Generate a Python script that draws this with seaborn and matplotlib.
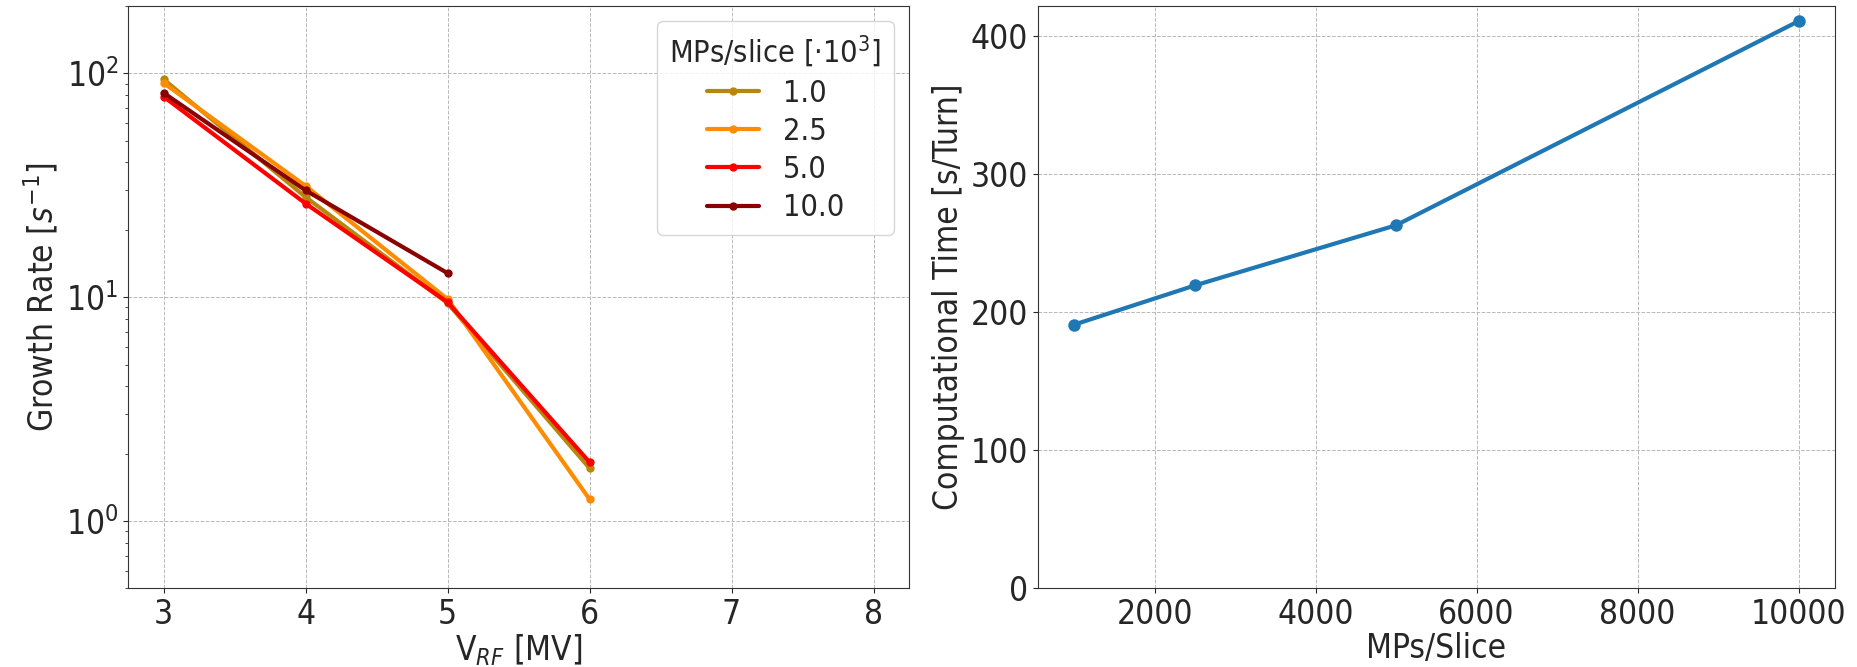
import numpy as np
import pandas as pd
import seaborn as sns
import matplotlib
matplotlib.use("Agg")
import matplotlib.pyplot as plt
from matplotlib.ticker import MultipleLocator

# growth rate vs RF voltage, one series per MPs/slice setting
v_rf = [3, 4, 5, 6]
mps_labels = ["1.0", "2.5", "5.0", "10.0"]
growth_1k = [94.0, 28.0, 9.4, 1.72]
growth_2k5 = [90.6, 31.4, 9.8, 1.25]
growth_5k = [78.7, 26.2, 9.5, 1.83]
growth_10k = [81.8, 30.0, 12.8]
line_colors = ["darkgoldenrod", "darkorange", "red", "darkred"]

# computational time vs MPs/slice
mps_per_slice = [1000, 2500, 5000, 10000]
comp_time = [191.0, 219.4, 263.0, 410.8]

sns.set_style("ticks")
plt.rcParams["font.family"] = ["DejaVu Sans"]
plt.rcParams["font.stretch"] = "condensed"
plt.rcParams["font.size"] = 20

rows = []
for label, vals in zip(mps_labels, [growth_1k, growth_2k5, growth_5k, growth_10k]):
    for v, g in zip(v_rf, vals):
        rows.append({"V_RF": v, "growth": g, "mps": label})
df_growth = pd.DataFrame(rows)
df_time = pd.DataFrame({"mps": mps_per_slice, "time": comp_time})

fig = plt.figure(figsize=(18.57, 6.67), dpi=100)
ax1 = fig.add_axes([0.069, 0.118, 0.4205, 0.873])
ax2 = fig.add_axes([0.559, 0.118, 0.429, 0.873])

sns.lineplot(
    data=df_growth, x="V_RF", y="growth", hue="mps",
    hue_order=mps_labels, palette=dict(zip(mps_labels, line_colors)),
    marker="o", markersize=6, markeredgewidth=0, linewidth=3, ax=ax1
)
ax1.set_yscale("log")
ax1.set_xlim(2.75, 8.25)
ax1.set_ylim(0.5, 200)
ax1.set_xticks([3, 4, 5, 6, 7, 8])
ax1.set_xlabel("V$_{RF}$ [MV]", fontsize=24, labelpad=1)
ax1.set_ylabel("Growth Rate [$s^{-1}$]", fontsize=24)
ax1.grid(True, which="major", linestyle="--", linewidth=0.7, color="#b8b8b8")
ax1.tick_params(labelsize=24)
leg = ax1.legend(title="MPs/slice [$\\cdot10^3$]", loc="upper right",
                 fontsize=22, title_fontsize=22, labelspacing=0.3,
                 handlelength=1.7)

sns.lineplot(
    data=df_time, x="mps", y="time", marker="o", markersize=9,
    markeredgewidth=0, linewidth=3, color="tab:blue", ax=ax2
)
ax2.set_ylim(0, None)
ax2.yaxis.set_major_locator(MultipleLocator(100))
ax2.set_xlabel("MPs/Slice", fontsize=24, labelpad=1)
ax2.set_ylabel("Computational Time [s/Turn]", fontsize=24)
ax2.grid(True, linestyle="--", linewidth=0.7, color="#b8b8b8")
ax2.tick_params(labelsize=24)

for ax in (ax1, ax2):
    for s in ax.spines.values():
        s.set_color("#333333")

fig.savefig("out.png", dpi=100)
